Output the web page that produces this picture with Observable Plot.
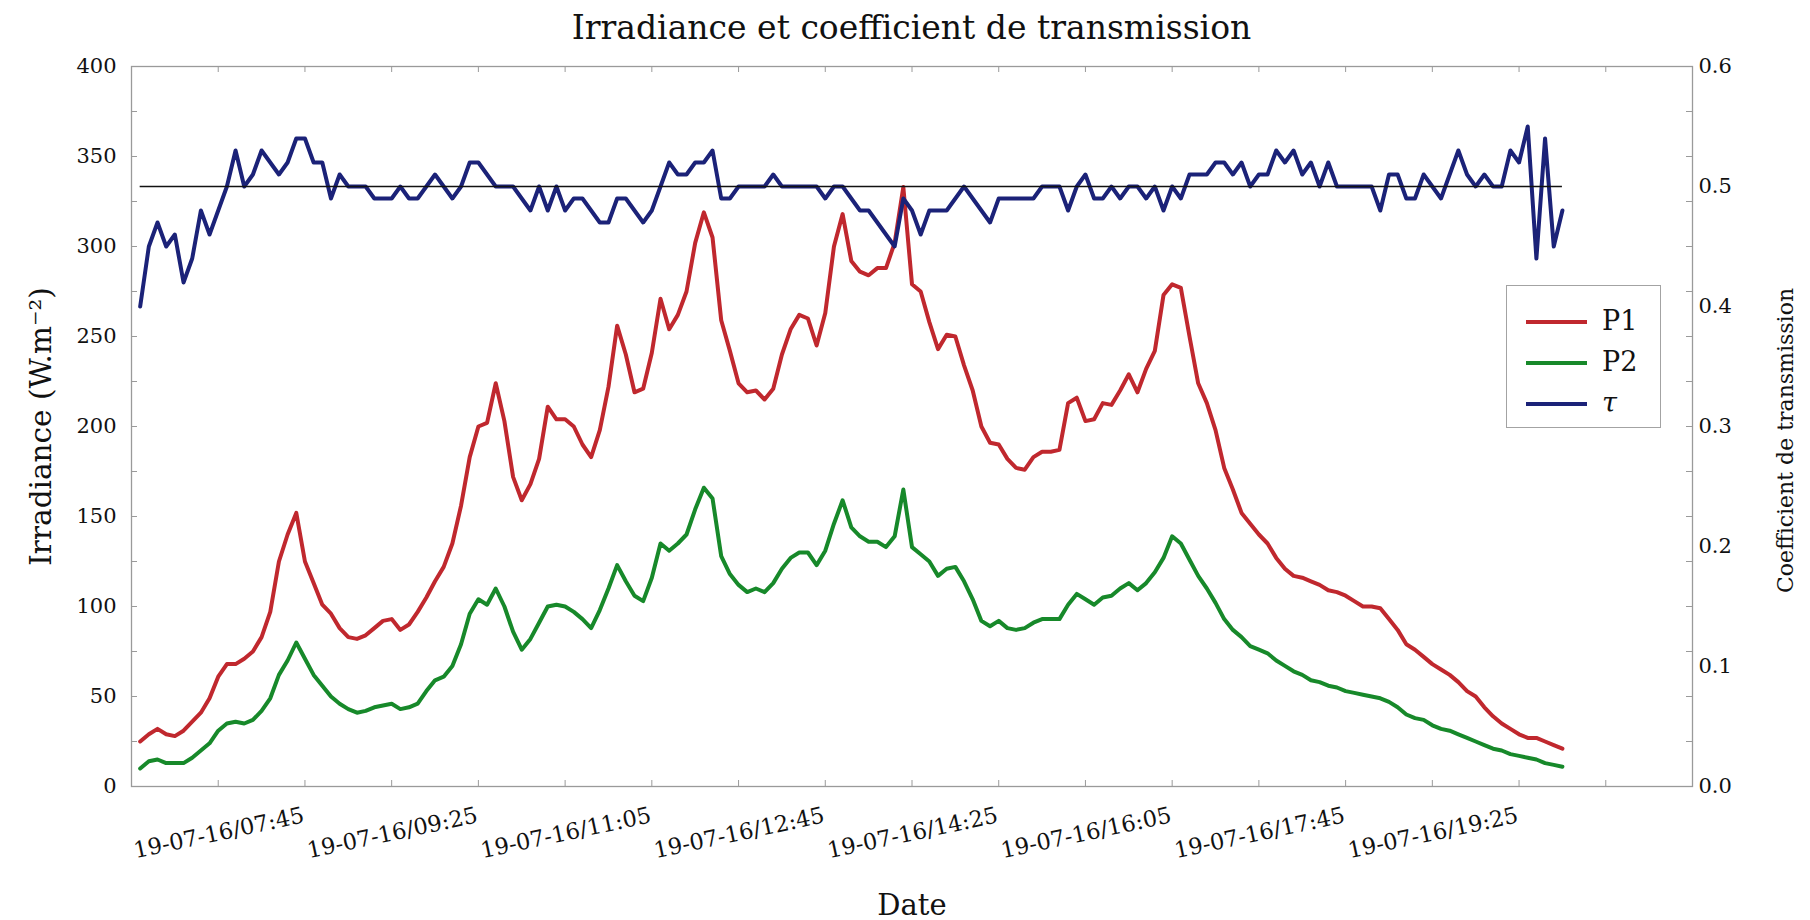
<!DOCTYPE html>
<html>
<head>
<meta charset="utf-8">
<script src="https://cdn.jsdelivr.net/npm/d3@7"></script>
<script src="https://cdn.jsdelivr.net/npm/@observablehq/plot@0.6"></script>
<style>
  body { margin: 0; background: #fff; }
  #wrap { position: relative; width: 1810px; height: 920px; }
  #title { position: absolute; left: 131px; width: 1561px; top: 8px; line-height: 40px;
           text-align: center; font-family: "DejaVu Serif"; font-size: 33px; color: #111; }
  #legend { position: absolute; left: 1506px; top: 285px; width: 153px; height: 141px;
            border: 1.5px solid #a3a3a3; background: #fff; font-family: "DejaVu Serif"; color: #111; }
  .sw { position: absolute; left: 19px; width: 61px; height: 4px; }
  .lab { position: absolute; left: 95px; font-size: 27px; line-height: 32px; }
</style>
</head>
<body>
<div id="wrap">
  <div id="chart"></div>
  <div id="title">Irradiance et coefficient de transmission</div>
  <div id="legend"></div>
</div>
<script>
// ---------- DATA ----------
const startLabel = "19-07-16/06:10";   // first sample
const stepMinutes = 5;                  // sampling step
const xDomainLabels = ["19-07-16/06:05", "19-07-16/21:05"];
const xTickLabels = ["19-07-16/07:45", "19-07-16/09:25", "19-07-16/11:05", "19-07-16/12:45",
                     "19-07-16/14:25", "19-07-16/16:05", "19-07-16/17:45", "19-07-16/19:25"];
const yTicksLeft = [0, 50, 100, 150, 200, 250, 300, 350, 400];
const tauTicks = [0.0, 0.1, 0.2, 0.3, 0.4, 0.5, 0.6];
const tauRef = 0.5;
const seriesNames = ["P1", "P2", "τ"];

const p1 = [
  25,29,32,29,28,31,36,41,49,61,
  68,68,71,75,83,97,125,140,152,125,
  113,101,96,88,83,82,84,88,92,93,
  87,90,97,105,114,122,135,156,183,200,
  202,224,203,172,159,168,182,211,204,204,
  200,190,183,198,222,256,240,219,221,241,
  271,254,262,275,302,319,305,259,242,224,
  219,220,215,221,240,254,262,260,245,263,
  300,318,292,286,284,288,288,302,333,279,
  275,258,243,251,250,234,220,200,191,190,
  182,177,176,183,186,186,187,213,216,203,
  204,213,212,220,229,219,232,242,273,279,
  277,250,224,213,198,177,165,152,146,140,
  135,127,121,117,116,114,112,109,108,106,
  103,100,100,99,93,87,79,76,72,68,
  65,62,58,53,50,44,39,35,32,29,
  27,27,25,23,21
];
const p2 = [
  10,14,15,13,13,13,16,20,24,31,
  35,36,35,37,42,49,62,70,80,71,
  62,56,50,46,43,41,42,44,45,46,
  43,44,46,53,59,61,67,79,96,104,
  101,110,100,86,76,82,91,100,101,100,
  97,93,88,98,110,123,114,106,103,116,
  135,131,135,140,154,166,160,128,118,112,
  108,110,108,113,121,127,130,130,123,131,
  146,159,144,139,136,136,133,139,165,133,
  129,125,117,121,122,114,104,92,89,92,
  88,87,88,91,93,93,93,101,107,104,
  101,105,106,110,113,109,113,119,127,139,
  135,126,117,110,102,93,87,83,78,76,
  74,70,67,64,62,59,58,56,55,53,
  52,51,50,49,47,44,40,38,37,34,
  32,31,29,27,25,23,21,20,18,17,
  16,15,13,12,11
];
const tau = [
  .40,.45,.47,.45,.46,.42,.44,.48,.46,.48,
  .50,.53,.50,.51,.53,.52,.51,.52,.54,.54,
  .52,.52,.49,.51,.50,.50,.50,.49,.49,.49,
  .50,.49,.49,.50,.51,.50,.49,.50,.52,.52,
  .51,.50,.50,.50,.49,.48,.50,.48,.50,.48,
  .49,.49,.48,.47,.47,.49,.49,.48,.47,.48,
  .50,.52,.51,.51,.52,.52,.53,.49,.49,.50,
  .50,.50,.50,.51,.50,.50,.50,.50,.50,.49,
  .50,.50,.49,.48,.48,.47,.46,.45,.49,.48,
  .46,.48,.48,.48,.49,.50,.49,.48,.47,.49,
  .49,.49,.49,.49,.50,.50,.50,.48,.50,.51,
  .49,.49,.50,.49,.50,.50,.49,.50,.48,.50,
  .49,.51,.51,.51,.52,.52,.51,.52,.50,.51,
  .51,.53,.52,.53,.51,.52,.50,.52,.50,.50,
  .50,.50,.50,.48,.51,.51,.49,.49,.51,.50,
  .49,.51,.53,.51,.50,.51,.50,.50,.53,.52,
  .55,.44,.54,.45,.48
];

// ---------- STYLE ----------
const colors = {P1: "#c0282e", P2: "#17892a", tau: "#1b2278"};
const W = 1810, H = 920, mL = 131, mR = 118, mT = 66, mB = 134;
const fw = W - mL - mR, fh = H - mT - mB;
const axisGray = "#9a9a9a";

// ---------- BUILD ----------
const parse = d3.utcParse("%d-%m-%y/%H:%M");
const t0 = parse(startLabel);
const times = p1.map((_, i) => d3.utcMinute.offset(t0, i * stepMinutes));
const K = yTicksLeft[yTicksLeft.length - 1] / tauTicks[tauTicks.length - 1]; // tau -> left units
const rows = times.map((t, i) => ({t, p1: p1[i], p2: p2[i], tau: tau[i]}));

const majors = xTickLabels.map(parse);
const half = (majors[1] - majors[0]) / 2;
const allXTicks = d3.range(-1, majors.length * 2 + 1).map(i => new Date(+majors[0] + i * half));
const yTickMinor = d3.range(yTicksLeft.length * 2 - 1).map(i => i * (yTicksLeft[1] - yTicksLeft[0]) / 2);

const chart = Plot.plot({
  width: W, height: H,
  marginLeft: mL, marginRight: mR, marginTop: mT, marginBottom: mB,
  style: {fontFamily: "DejaVu Serif", fontSize: "21px", color: "#222", background: "transparent", overflow: "visible"},
  x: {type: "utc", domain: xDomainLabels.map(parse), axis: null},
  y: {domain: [yTicksLeft[0], yTicksLeft[yTicksLeft.length - 1]], axis: null},
  marks: [
    Plot.frame({stroke: axisGray, strokeWidth: 1.3}),
    Plot.tickY(yTickMinor, {y: d => d, stroke: axisGray, insetRight: fw - 6}),
    Plot.tickY(yTickMinor, {y: d => d, stroke: axisGray, insetLeft: fw - 6}),
    Plot.tickX(allXTicks, {x: d => d, stroke: axisGray, insetTop: fh - 6}),
    Plot.tickX(allXTicks, {x: d => d, stroke: axisGray, insetBottom: fh - 6}),
    Plot.axisY(yTicksLeft, {anchor: "left", tickSize: 0, tickPadding: 15, fontSize: 21, label: null, fill: "#111"}),
    Plot.axisY(tauTicks.map(v => v * K), {anchor: "right", tickSize: 0, tickPadding: 6, fontSize: 21, label: null, fill: "#111",
      tickFormat: v => (v / K).toFixed(1)}),
    Plot.text(majors, {x: d => d, text: (d, i) => xTickLabels[i], frameAnchor: "bottom",
      rotate: -12, textAnchor: "end", lineAnchor: "top", dy: 20, dx: -3, fontSize: 22.5, fill: "#111"}),
    Plot.line(rows, {x: "t", y: "p1", stroke: colors.P1, strokeWidth: 4}),
    Plot.line(rows, {x: "t", y: "p2", stroke: colors.P2, strokeWidth: 4}),
    Plot.line(rows, {x: "t", y: d => d.tau * K, stroke: colors.tau, strokeWidth: 4}),
    Plot.ruleY([tauRef * K], {x1: () => times[0], x2: () => times[times.length - 1], stroke: "#111", strokeWidth: 1.6}),
    Plot.text(["Irradiance (W.m⁻²)"], {text: d => d, frameAnchor: "left", textAnchor: "middle", lineAnchor: "middle",
      rotate: -90, dx: -90, fontSize: 29.5, fill: "#111"}),
    Plot.text(["Coefficient de transmission"], {text: d => d, frameAnchor: "right", textAnchor: "middle", lineAnchor: "middle",
      rotate: -90, dx: 93, dy: 14, fontSize: 22, fill: "#111"}),
    Plot.text(["Date"], {text: d => d, frameAnchor: "bottom", textAnchor: "middle", lineAnchor: "middle",
      dy: 119, fontSize: 29, fill: "#111"})
  ]
});
document.getElementById("chart").appendChild(chart);

// legend (HTML)
const legend = document.getElementById("legend");
const legendColors = [colors.P1, colors.P2, colors.tau];
seriesNames.forEach((name, i) => {
  const cy = 36 + i * 41;
  const sw = document.createElement("div");
  sw.className = "sw"; sw.style.top = (cy - 2) + "px"; sw.style.background = legendColors[i];
  legend.appendChild(sw);
  const lab = document.createElement("div");
  lab.className = "lab"; lab.style.top = (cy - 17) + "px"; lab.textContent = name;
  if (name === "τ") lab.style.fontStyle = "italic";
  legend.appendChild(lab);
});
</script>
</body>
</html>
